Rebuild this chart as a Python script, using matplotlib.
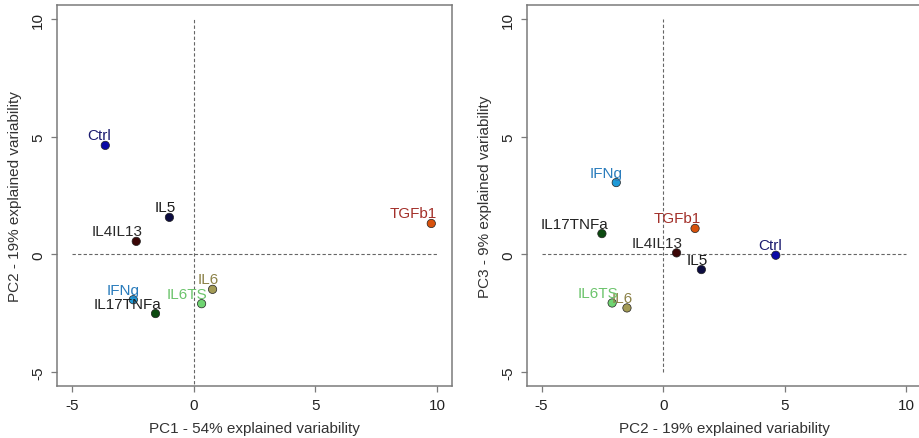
import matplotlib
matplotlib.use("Agg")
import matplotlib.pyplot as plt

plt.rcParams.update({
    "font.family": ["Liberation Sans", "DejaVu Sans"],
    "font.size": 11,
    "axes.unicode_minus": False,
})

# PCA scores per treatment
samples = ["Ctrl", "IL5", "TGFb1", "IL4IL13", "IL6", "IL6TS", "IFNg", "IL17TNFa"]
pc1 = [-3.62, -0.99, 9.75, -2.35, 0.78, 0.33, -2.47, -1.56]
pc2 = [4.63, 1.57, 1.31, 0.55, -1.49, -2.10, -1.93, -2.52]
pc3 = [-0.04, -0.65, 1.10, 0.06, -2.28, -2.07, 3.05, 0.88]

point_colors = ["#0a0aa5", "#0c0c40", "#d8520c", "#3a0606",
                "#a39b55", "#6fd472", "#1e9ad8", "#0c4a10"]
label_colors = ["#1c1c70", "#1a1a1a", "#a3302a", "#2a2a2a",
                "#8c8248", "#6cc46c", "#2a7cbc", "#222222"]

panels = [
    (pc1, pc2, "PC1 - 54% explained variability", "PC2 - 19% explained variability"),
    (pc2, pc3, "PC2 - 19% explained variability", "PC3 - 9% explained variability"),
]

W, H = 920, 439
fig = plt.figure(figsize=(W / 100, H / 100), dpi=100)
rects = [(57, 452), (527, 921)]
top, bottom = 6, 387

grey = "#7a7a7a"
for i, ((xs, ys, xlab, ylab), (x0, x1)) in enumerate(zip(panels, rects)):
    ax = fig.add_axes([x0 / W, (H - bottom) / H, (x1 - x0) / W, (bottom - top) / H])
    ax.set_xlim(-5.6, 10.6)
    ax.set_ylim(-5.6, 10.6)
    ax.set_xticks([-5, 0, 5, 10])
    ax.set_yticks([-5, 0, 5, 10])
    for s in ax.spines.values():
        s.set_color(grey)
        s.set_linewidth(1.1)
    ax.tick_params(direction="out", length=4.5, width=0.9, color=grey,
                   labelcolor="#222222", labelsize=11)
    ax.tick_params(axis="x", pad=4)
    ax.tick_params(axis="y", labelrotation=90, pad=4)
    for t in ax.get_yticklabels():
        t.set_va("center")

    # reference lines
    dash = dict(color="#666666", lw=0.8, ls=(0, (3, 2)), zorder=1)
    ax.plot([-5, 10], [0, 0], **dash)
    if i == 0:
        ax.plot([0, 0], [-6, 10], **dash)
    else:
        ax.plot([0, 0], [-5, 10], **dash)

    ax.scatter(xs, ys, s=36, c=point_colors, edgecolors="#202020",
               linewidths=0.5, zorder=3)
    for name, x, y, col in zip(samples, xs, ys, label_colors):
        ax.annotate(name, (x, y), xytext=(6, 6), textcoords="offset pixels",
                    ha="right", va="baseline", color=col, fontsize=11,
                    zorder=4)

    ax.set_xlabel(xlab, color="#333333")
    ax.xaxis.set_label_coords(0.5, -42 / (bottom - top))
    ax.xaxis.label.set_va("center")
    ax.set_ylabel(ylab, color="#333333")
    ax.yaxis.set_label_coords(-42 / (x1 - x0), 0.5)
    ax.yaxis.label.set_va("center")

fig.savefig("out.png", dpi=100)
